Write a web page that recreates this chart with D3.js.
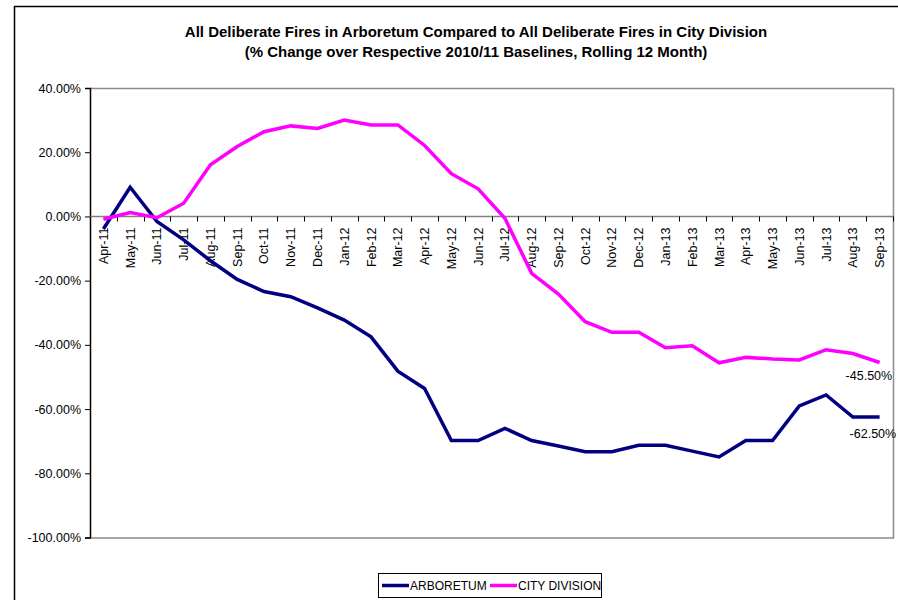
<!DOCTYPE html>
<html>
<head>
<meta charset="utf-8">
<script src="https://cdn.jsdelivr.net/npm/d3@7.9.0/dist/d3.min.js"></script>
<style>
  body { margin: 0; background: #fff; }
  svg { display: block; font-family: 'Liberation Sans', Arial, sans-serif; }
</style>
</head>
<body>
<svg id="chart" width="898" height="600"></svg>
<script>
const months = ['Apr-11','May-11','Jun-11','Jul-11','Aug-11','Sep-11','Oct-11','Nov-11','Dec-11',
  'Jan-12','Feb-12','Mar-12','Apr-12','May-12','Jun-12','Jul-12','Aug-12','Sep-12','Oct-12','Nov-12','Dec-12',
  'Jan-13','Feb-13','Mar-13','Apr-13','May-13','Jun-13','Jul-13','Aug-13','Sep-13'];

const arboretum = [-3.9, 9.1, -1.6, -7.3, -13.8, -19.6, -23.4, -25.0, -28.5,
  -32.3, -37.5, -48.2, -53.6, -69.8, -69.8, -66.0, -69.8, -71.5, -73.3, -73.3, -71.3,
  -71.3, -73.1, -74.9, -69.8, -69.8, -59.0, -55.6, -62.5, -62.5];

const cityDivision = [-0.9, 1.2, -0.4, 4.1, 16.1, 21.8, 26.4, 28.2, 27.4,
  30.0, 28.5, 28.5, 22.1, 13.3, 8.6, -0.6, -17.7, -24.2, -32.8, -36.1, -36.1,
  -40.9, -40.3, -45.6, -43.9, -44.4, -44.7, -41.5, -42.7, -45.5];

const yTicks = [40, 20, 0, -20, -40, -60, -80, -100];

const series = [
  { name: 'ARBORETUM', values: arboretum, color: '#000080', last: '-62.50%' },
  { name: 'CITY DIVISION', values: cityDivision, color: '#ff00ff', last: '-45.50%' }
];

const svg = d3.select('#chart');
const plot = { left: 90, right: 893, top: 88, bottom: 537.5 };

// outer chart frame (only left and top visible)
svg.append('path')
  .attr('d', 'M14.5,600 L14.5,6.5 L898,6.5')
  .attr('fill', 'none')
  .attr('stroke', '#000')
  .attr('stroke-width', 1.5);

// title
const title = svg.append('text')
  .attr('text-anchor', 'middle')
  .attr('font-weight', 'bold')
  .attr('font-size', 15);
title.append('tspan').attr('x', 476).attr('y', 37)
  .text('All Deliberate Fires in Arboretum Compared to All Deliberate Fires in City Division');
title.append('tspan').attr('x', 476).attr('y', 57)
  .text('(% Change over Respective 2010/11 Baselines, Rolling 12 Month)');

const x = d3.scaleBand().domain(months).range([plot.left, plot.right]).padding(0);
const y = d3.scaleLinear().domain([-100, 40]).range([plot.bottom, plot.top]);

// plot area border (grey)
svg.append('path')
  .attr('d', `M${plot.left},${plot.top + 0.5} L${plot.right + 0.5},${plot.top + 0.5} L${plot.right + 0.5},${plot.bottom + 0.5} L${plot.left},${plot.bottom + 0.5}`)
  .attr('fill', 'none')
  .attr('stroke', '#8c8c8c')
  .attr('stroke-width', 1.5);

// y axis
const yAxis = d3.axisLeft(y)
  .tickValues(yTicks)
  .tickSize(5)
  .tickPadding(4)
  .tickFormat(d => d.toFixed(2) + '%');
const yg = svg.append('g')
  .attr('transform', `translate(${plot.left},0)`)
  .call(yAxis);
yg.select('.domain').attr('stroke', '#000').attr('stroke-width', 1.5);
yg.selectAll('.tick line').attr('stroke', '#000');
yg.selectAll('.tick text')
  .attr('font-size', 12.5)
  .attr('fill', '#000')
  .attr('font-family', "'Liberation Sans', Arial, sans-serif");

// x axis along zero line, ticks at category boundaries
const y0 = Math.round(y(0)) + 0.5;
svg.append('line')
  .attr('x1', plot.left).attr('x2', plot.right)
  .attr('y1', y0).attr('y2', y0)
  .attr('stroke', '#808080')
  .attr('stroke-width', 1.5);

const bounds = months.map(m => x(m)).concat([plot.right]);
svg.append('g').selectAll('line')
  .data(bounds)
  .join('line')
  .attr('x1', d => Math.round(d) + 0.5)
  .attr('x2', d => Math.round(d) + 0.5)
  .attr('y1', y0)
  .attr('y2', y0 + 5)
  .attr('stroke', '#000');

svg.append('g').selectAll('text')
  .data(months)
  .join('text')
  .attr('transform', d => `translate(${x(d) + x.bandwidth() / 2 + 4.5},${y0 + 11}) rotate(-90)`)
  .attr('text-anchor', 'end')
  .attr('font-size', 12.5)
  .text(d => d);

// lines
const line = d3.line()
  .x((d, i) => x(months[i]) + x.bandwidth() / 2)
  .y(d => y(d));

series.forEach(s => {
  svg.append('path')
    .datum(s.values)
    .attr('fill', 'none')
    .attr('stroke', s.color)
    .attr('stroke-width', 3.5)
    .attr('stroke-linejoin', 'miter')
    .attr('d', line);
});

// end labels
const lastM = months[months.length - 1];
svg.append('text')
  .attr('x', x(lastM) + x.bandwidth() / 2 - 34)
  .attr('y', y(cityDivision[cityDivision.length - 1]) + 17)
  .attr('font-size', 12.5)
  .text(series[1].last);
svg.append('text')
  .attr('x', x(lastM) + x.bandwidth() / 2 - 30)
  .attr('y', y(arboretum[arboretum.length - 1]) + 21)
  .attr('font-size', 12.5)
  .text(series[0].last);

// legend
const legend = svg.append('g').attr('transform', 'translate(378,573)');
legend.append('rect')
  .attr('x', 0.5).attr('y', 0.5)
  .attr('width', 223).attr('height', 24)
  .attr('fill', '#fff')
  .attr('stroke', '#000');
const legendX = [4, 112];
series.forEach((s, i) => {
  const g = legend.append('g').attr('transform', `translate(${legendX[i]},12.5)`);
  g.append('line')
    .attr('x1', 0).attr('x2', 27)
    .attr('stroke', s.color)
    .attr('stroke-width', 3.5);
  g.append('text')
    .attr('x', 28).attr('y', 4.5)
    .attr('font-size', 12)
    .text(s.name);
});
</script>
</body>
</html>
